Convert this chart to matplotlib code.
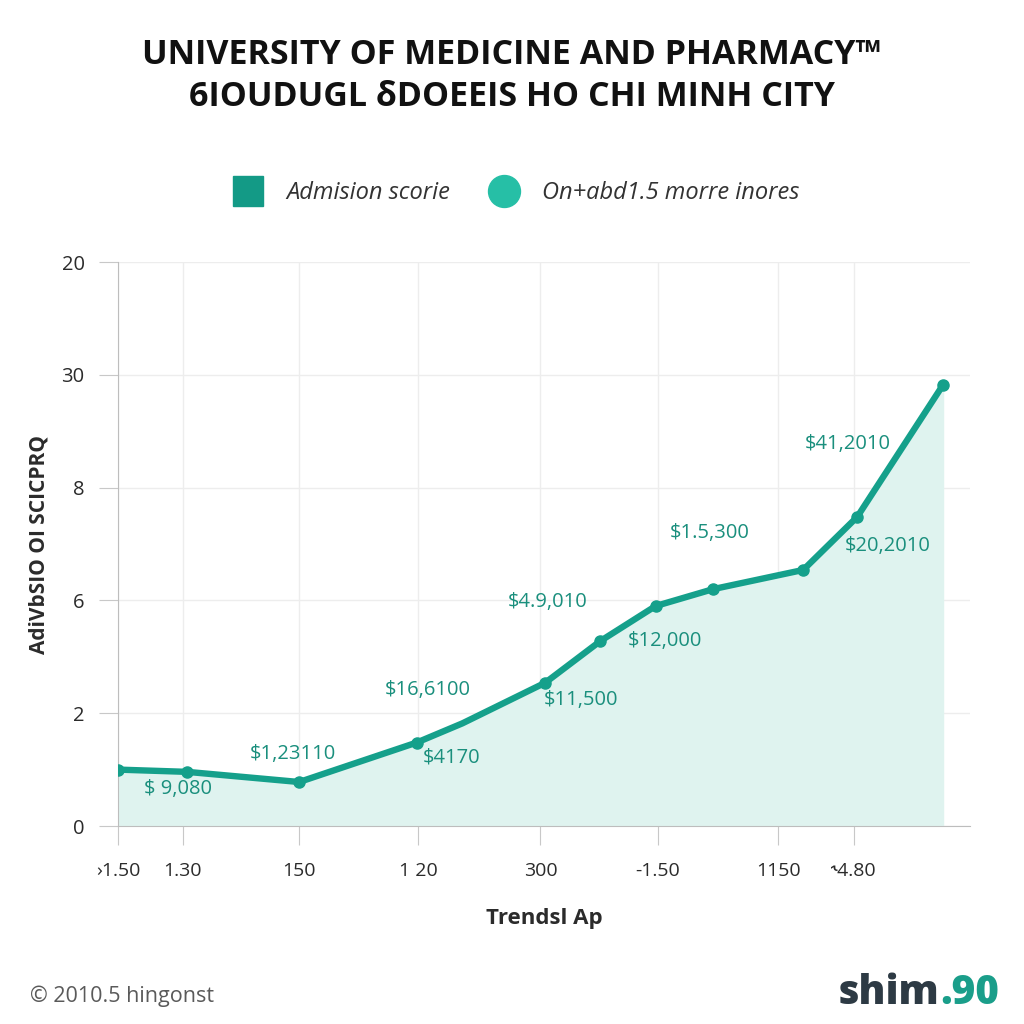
import numpy as np
import matplotlib
matplotlib.use("Agg")
import matplotlib.pyplot as plt
from matplotlib.lines import Line2D

plt.rcParams['font.family'] = ['Open Sans', 'DejaVu Sans']

# data (x in tick-spacing units, y in evenly spaced tick slots)
x_pos = [0, 0.575, 1.51, 2.49, 2.87, 3.56, 4.02, 4.48, 4.96, 5.71, 6.16, 6.875]
scores = [0.50, 0.48, 0.39, 0.74, 0.91, 1.27, 1.64, 1.95, 2.10, 2.27, 2.74, 3.91]
marker_idx = [0, 1, 2, 3, 5, 6, 7, 8, 9, 10, 11]

x_ticks = [0, 0.54, 1.51, 2.5, 3.52, 4.5, 5.5, 6.13]
x_labels = ["\u203a1.50", "1.30", "150", "1 20", "300", "-1.50", "1150", "\u02de4.80"]
y_ticks = [0, 1, 2, 3, 4, 5]
y_labels = ["0", "2", "6", "8", "30", "20"]

ann_text = ["$ 9,080", "$1,23110", "$16,6100", "$4170", "$4.9,010",
            "$11,500", "$12,000", "$1.5,300", "$41,2010", "$20,2010"]
ann_x = [0.50, 1.46, 2.58, 2.78, 3.58, 3.86, 4.56, 4.93, 6.08, 6.41]
ann_y = [0.33, 0.64, 1.21, 0.61, 1.99, 1.12, 1.64, 2.60, 3.39, 2.48]

line_color = "#15a08b"
fill_color = "#dff3ef"
text_color = "#2b2b2b"

fig = plt.figure(figsize=(10.24, 10.24), dpi=100)
ax = fig.add_axes([118 / 1024, 1 - 826 / 1024, (970 - 118) / 1024, (826 - 262) / 1024])

ax.fill_between(x_pos, scores, 0, color=fill_color, zorder=1)
ax.plot(x_pos, scores, color=line_color, linewidth=4.6, solid_capstyle="round",
        marker="o", markersize=8, markevery=marker_idx, zorder=3)

for t, xx, yy in zip(ann_text, ann_x, ann_y):
    ax.text(xx, yy, t, color="#1a8f7d", fontsize=14.5, ha="center", va="center", zorder=4)

ax.set_xlim(0, 7.1)
ax.set_ylim(0, 5)
ax.set_xticks(x_ticks)
ax.set_xticklabels(x_labels, fontsize=14, color=text_color)
ax.tick_params(axis="x", length=14, color="#c8c8c8", pad=12)
ax.set_yticks(y_ticks)
ax.set_yticklabels(y_labels, fontsize=14.5, color=text_color)
ax.tick_params(axis="y", length=14, color="#c8c8c8", pad=10)
ax.grid(True, color="#ededed", linewidth=1)
ax.set_axisbelow(True)
for s in ["top", "right"]:
    ax.spines[s].set_visible(False)
for s in ["left", "bottom"]:
    ax.spines[s].set_color("#bdbdbd")

ax.set_xlabel("Trendsl Ap", fontsize=16, fontweight="bold", color=text_color, labelpad=20)
ax.set_ylabel("AdiVbSIO OI SCICPRQ", fontsize=15, fontweight="bold", color=text_color, labelpad=9)

fig.text(0.5, 1 - 55 / 1024, "UNIVERSITY OF MEDICINE AND PHARMACY\u2122",
         ha="center", va="center", fontsize=24.5, fontweight="bold", color="#111111")
fig.text(0.5, 1 - 97 / 1024, "6IOUDUGL \u03b4DOEEIS HO CHI MINH CITY",
         ha="center", va="center", fontsize=24.5, fontweight="bold", color="#111111")

handles = [
    Line2D([], [], linestyle="none", marker="s", markersize=21, color="#139a86"),
    Line2D([], [], linestyle="none", marker="o", markersize=23, color="#26bfa6"),
]
fig.legend(handles, ["Admision scorie", "On+abd1.5 morre inores"], loc="center",
           bbox_to_anchor=(0.5, 1 - 193 / 1024), ncol=2, frameon=False,
           prop={"size": 17, "style": "italic"}, labelcolor="#333333",
           handletextpad=0.6, columnspacing=1.3)

fig.text(30 / 1024, 1 - 996 / 1024, "\u00a9 2010.5 hingonst", ha="left", va="center",
         fontsize=15.5, color="#5a5a5a")
logo = fig.text(838 / 1024, 1 - 993 / 1024, "shim", ha="left", va="center",
                fontsize=29, fontweight="heavy", color="#2d3a44")
fig.canvas.draw()
bb = logo.get_window_extent(fig.canvas.get_renderer())
fig.text(bb.x1 / fig.bbox.width, 1 - 993 / 1024, ".90", ha="left", va="center",
         fontsize=29, fontweight="heavy", color="#1a9e8a")

fig.savefig("out.png", dpi=100, facecolor="white")
